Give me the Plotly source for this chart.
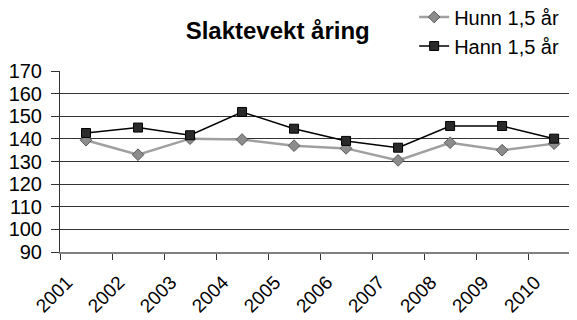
import plotly.graph_objects as go

years = ["2001", "2002", "2003", "2004", "2005", "2006", "2007", "2008", "2009", "2010"]
hunn = [139.4, 133.0, 140.1, 139.7, 137.0, 135.8, 130.5, 138.3, 135.0, 137.9]
hann = [142.6, 145.0, 141.6, 151.9, 144.5, 139.1, 136.1, 145.7, 145.7, 140.1]
y_ticks = [90, 100, 110, 120, 130, 140, 150, 160, 170]

fig = go.Figure()
fig.add_trace(go.Scatter(
    x=years, y=hunn, name="Hunn 1,5 år", mode="lines+markers",
    line=dict(color="#a0a0a0", width=2.5),
    marker=dict(symbol="diamond", size=9, color="#8c8c8c", line=dict(color="#5a5a5a", width=1)),
))
fig.add_trace(go.Scatter(
    x=years, y=hann, name="Hann 1,5 år", mode="lines+markers",
    line=dict(color="#000000", width=1.5),
    marker=dict(symbol="square", size=9, color="#2a2a2a", line=dict(color="#000000", width=1)),
))

font = "Liberation Sans, Arial, sans-serif"
# page body has an 8px default margin, so the figure is drawn 8px smaller
fig.update_layout(
    width=569, height=312,
    margin=dict(l=52, r=0, t=63, b=68, autoexpand=False),
    paper_bgcolor="white", plot_bgcolor="white",
    font=dict(family=font, size=20, color="black"),
    title=dict(text="<b>Slaktevekt åring</b>", x=0.474, xanchor="center", y=0.929, yanchor="middle",
               yref="container", xref="container",
               font=dict(family=font, size=24, color="black")),
    legend=dict(x=0.685, xanchor="left", y=1.406, yanchor="top", yref="paper",
                font=dict(family=font, size=20), itemwidth=30, tracegroupgap=0,
                bgcolor="rgba(0,0,0,0)"),
    showlegend=True,
)
fig.update_xaxes(
    type="category", range=[-0.5, 9.44], tickson="boundaries",
    ticks="outside", ticklen=6, tickcolor="#333", tickangle=-45,
    ticklabelshift=-19, ticklabelstandoff=10,
    showline=True, linecolor="#808080", linewidth=1.5, showgrid=False,
    tickfont=dict(family=font, size=19),
)
fig.update_yaxes(
    range=[90, 170], tickvals=y_ticks, ticks="outside", ticklen=8, tickcolor="#333",
    ticklabelstandoff=5,
    showline=True, linecolor="#333", linewidth=1, showgrid=True, gridcolor="#333", gridwidth=1,
    zeroline=False, tickfont=dict(family=font, size=20),
)
fig.write_html("out.html")
